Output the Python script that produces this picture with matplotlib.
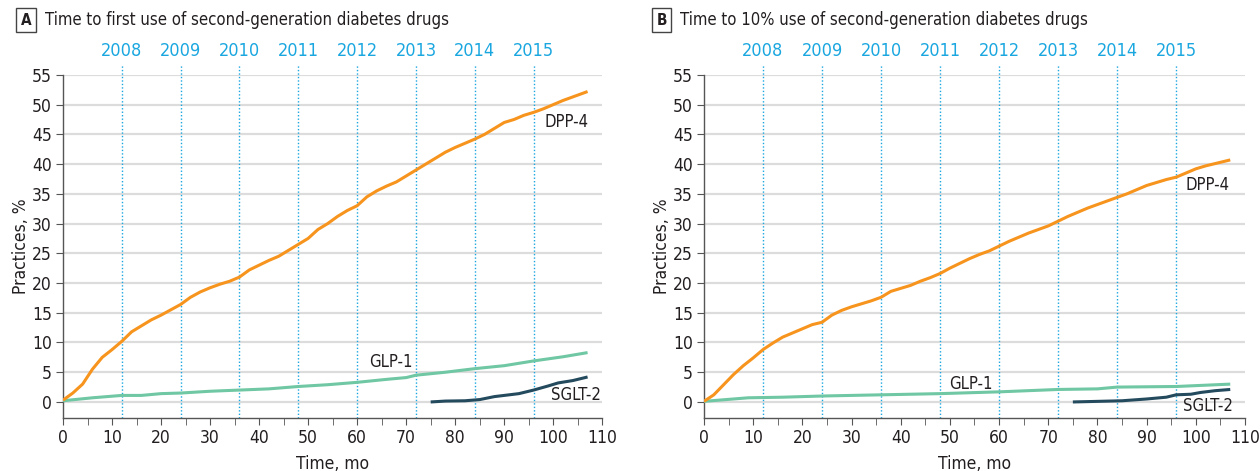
import matplotlib
matplotlib.use('Agg')
import matplotlib.pyplot as plt
from matplotlib import font_manager
from matplotlib.ticker import MultipleLocator

# narrow font if there is one, otherwise condensed DejaVu
names = {f.name for f in font_manager.fontManager.ttflist}
if 'Liberation Sans Narrow' in names:
    plt.rcParams['font.family'] = ['Liberation Sans Narrow', 'DejaVu Sans']
else:
    plt.rcParams['font.family'] = ['DejaVu Sans']
    plt.rcParams['font.stretch'] = 'condensed'

# ---------------------------------------------------------------------------
# Data (months since start, % of practices)
# ---------------------------------------------------------------------------

a_dpp4_x = [0, 2, 4, 6, 8, 10, 12, 14, 16, 18, 20, 22, 24, 26, 28, 30, 32, 34, 36,
            38, 40, 42, 44, 46, 48, 50, 52, 54, 56, 58, 60, 62, 64, 66, 68, 70, 72,
            74, 76, 78, 80, 82, 84, 86, 88, 90, 92, 94, 96, 98, 100, 102, 104, 107]
a_dpp4_y = [0.3, 1.5, 3.0, 5.5, 7.5, 8.8, 10.2, 11.8, 12.8, 13.8, 14.6, 15.5, 16.4,
            17.6, 18.5, 19.2, 19.8, 20.3, 21.0, 22.2, 23.0, 23.8, 24.5, 25.5, 26.5,
            27.5, 29.0, 30.0, 31.2, 32.2, 33.0, 34.5, 35.5, 36.3, 37.0, 38.0, 39.0,
            40.0, 41.0, 42.0, 42.8, 43.5, 44.2, 45.0, 46.0, 47.0, 47.5, 48.2, 48.7,
            49.3, 50.0, 50.7, 51.3, 52.2]

a_glp1_x = [0, 6, 12, 16, 20, 24, 30, 36, 42, 48, 54, 60, 66, 70, 72, 78, 84, 90,
            96, 102, 107]
a_glp1_y = [0.2, 0.7, 1.1, 1.1, 1.4, 1.5, 1.8, 2.0, 2.2, 2.6, 2.9, 3.3, 3.8, 4.1,
            4.5, 5.0, 5.6, 6.1, 6.9, 7.6, 8.3]

a_sglt2_x = [75, 78, 82, 85, 88, 90, 93, 96, 99, 101, 104, 107]
a_sglt2_y = [0.0, 0.15, 0.2, 0.4, 0.9, 1.1, 1.4, 2.0, 2.7, 3.2, 3.6, 4.2]

b_dpp4_x = [0, 2, 4, 6, 8, 10, 12, 14, 16, 18, 20, 22, 24, 26, 28, 30, 32, 34, 36,
            38, 40, 42, 44, 46, 48, 50, 52, 54, 56, 58, 60, 62, 64, 66, 68, 70, 72,
            74, 76, 78, 80, 82, 84, 86, 88, 90, 92, 94, 96, 98, 100, 102, 104, 107]
b_dpp4_y = [0.1, 1.2, 2.9, 4.6, 6.1, 7.4, 8.8, 9.9, 10.9, 11.6, 12.3, 13.0, 13.4,
            14.6, 15.4, 16.0, 16.5, 17.0, 17.6, 18.6, 19.1, 19.6, 20.3, 20.9, 21.6,
            22.5, 23.3, 24.1, 24.8, 25.4, 26.2, 27.0, 27.7, 28.4, 29.0, 29.6, 30.4,
            31.2, 31.9, 32.6, 33.2, 33.8, 34.4, 35.0, 35.7, 36.4, 36.9, 37.4, 37.8,
            38.5, 39.2, 39.7, 40.1, 40.7]

b_glp1_x = [0, 9, 16, 24, 36, 48, 60, 72, 80, 84, 96, 107]
b_glp1_y = [0.1, 0.7, 0.8, 1.0, 1.2, 1.4, 1.7, 2.1, 2.2, 2.5, 2.6, 3.0]

b_sglt2_x = [75, 80, 85, 90, 94, 96, 99, 101, 104, 107]
b_sglt2_y = [0.0, 0.1, 0.2, 0.5, 0.8, 1.2, 1.3, 1.6, 1.9, 2.1]

year_months = [12, 24, 36, 48, 60, 72, 84, 96]
year_labels = ['2008', '2009', '2010', '2011', '2012', '2013', '2014', '2015']

C_DPP4 = '#f7941d'
C_GLP1 = '#6fc7a3'
C_SGLT2 = '#244a5e'
C_YEAR = '#1aa7e0'
C_TEXT = '#231f20'


def draw_panel(ax, series, labels):
    ax.set_xlim(0, 110)
    ax.set_ylim(-2.7, 55)
    ax.yaxis.set_major_locator(MultipleLocator(5))
    ax.xaxis.set_major_locator(MultipleLocator(10))
    ax.xaxis.set_minor_locator(MultipleLocator(5))
    for y in range(0, 56, 5):
        ax.axhline(y, color='#dcdcdc', lw=1.6, zorder=0)
    for m, lab in zip(year_months, year_labels):
        ax.plot([m, m], [-2.7, 56.6], ls=(0, (1, 1.5)), color=C_YEAR, lw=1.0,
                clip_on=False, zorder=1)
        ax.text(m, 59.0, lab, color=C_YEAR, ha='center', va='center',
                fontsize=13)
    for (x, y, c) in series:
        ax.plot(x, y, color=c, lw=2.2, zorder=3, solid_capstyle='butt')
    for (tx, ty, s) in labels:
        ax.text(tx, ty, s, ha='center', va='center', fontsize=12, color=C_TEXT)
    for s in ['top', 'right']:
        ax.spines[s].set_visible(False)
    for s in ['left', 'bottom']:
        ax.spines[s].set_color('#555555')
        ax.spines[s].set_linewidth(1.0)
    ax.tick_params(which='both', direction='out', color='#555555', labelsize=12.5,
                   labelcolor=C_TEXT, length=5, pad=3)
    ax.set_xlabel('Time, mo', fontsize=12.5, color=C_TEXT, labelpad=6)
    ax.set_ylabel('Practices, %', fontsize=12.5, color=C_TEXT, labelpad=1)


fig = plt.figure(figsize=(12.6, 4.71), dpi=100)
ax_a = fig.add_axes([0.05, 0.1125, 0.428, 0.7285])
ax_b = fig.add_axes([0.5587, 0.1125, 0.4294, 0.7285])

draw_panel(ax_a,
           [(a_glp1_x, a_glp1_y, C_GLP1), (a_sglt2_x, a_sglt2_y, C_SGLT2),
            (a_dpp4_x, a_dpp4_y, C_DPP4)],
           [(102.6, 47.0, 'DPP-4'), (66.8, 6.7, 'GLP-1'), (104.7, 1.1, 'SGLT-2')])
draw_panel(ax_b,
           [(b_glp1_x, b_glp1_y, C_GLP1), (b_sglt2_x, b_sglt2_y, C_SGLT2),
            (b_dpp4_x, b_dpp4_y, C_DPP4)],
           [(102.4, 36.5, 'DPP-4'), (54.2, 3.0, 'GLP-1'), (102.4, -0.6, 'SGLT-2')])

# panel letters and titles
box = dict(boxstyle='square,pad=0.3', fc='white', ec='#444444', lw=1)
fig.text(0.0206, 0.957, 'A', ha='center', va='center', fontsize=11,
         fontweight='bold', color=C_TEXT, bbox=box)
fig.text(0.0355, 0.957, 'Time to first use of second-generation diabetes drugs',
         ha='left', va='center', fontsize=12, color=C_TEXT)
fig.text(0.5250, 0.957, 'B', ha='center', va='center', fontsize=11,
         fontweight='bold', color=C_TEXT, bbox=box)
fig.text(0.5400, 0.957, 'Time to 10% use of second-generation diabetes drugs',
         ha='left', va='center', fontsize=12, color=C_TEXT)

fig.savefig('out.png', dpi=100)
